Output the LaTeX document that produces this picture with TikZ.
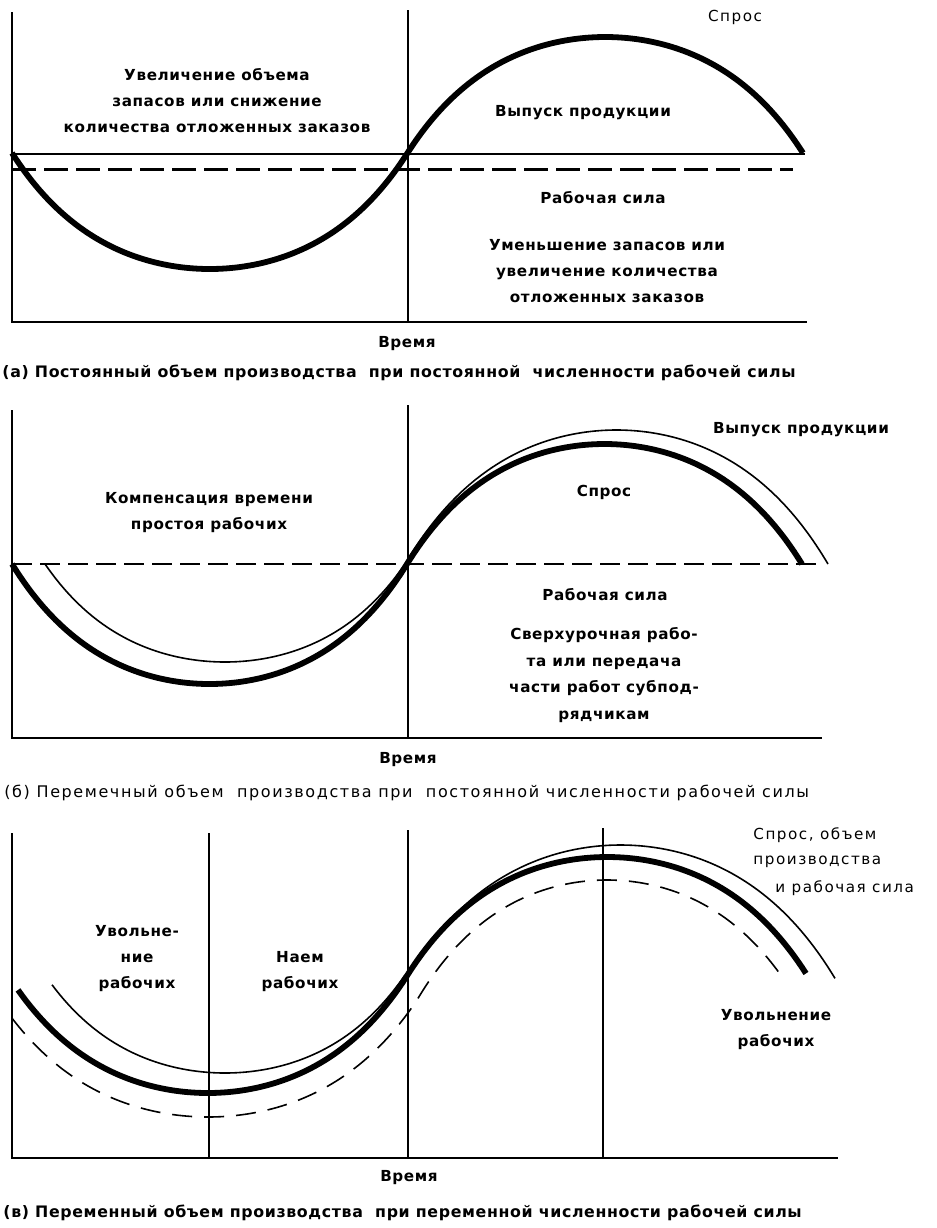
\documentclass[tikz,border=0pt]{standalone}
\usepackage{fontspec}
\newfontfamily\lblfont{DejaVu Sans}[LetterSpace=10]
\newfontfamily\lblbold{DejaVu Sans Bold}[LetterSpace=4]
\begin{document}
\begin{tikzpicture}[x=0.5pt,y=-0.5pt,
  declare function={sw(\a)=1.7*sin(\a)/(1+0.7*abs(sin(\a)));},
  lab/.style={font=\lblbold\fontsize{7.6}{13}\selectfont, inner sep=0pt, align=center},
  labl/.style={font=\lblfont\fontsize{7.6}{13}\selectfont, inner sep=0pt},
  capb/.style={font=\lblbold\fontsize{7.9}{13}\selectfont, inner sep=0pt, anchor=west},
  capl/.style={font=\lblfont\fontsize{8}{13}\selectfont, inner sep=0pt, anchor=west},
  axis/.style={line width=1pt},
  level/.style={line width=0.8pt},
  demand/.style={line width=2.9pt},
  outputc/.style={line width=0.8pt},
  laborA/.style={line width=1.5pt, dash pattern=on 12pt off 4pt},
  laborB/.style={line width=1pt, dash pattern=on 10pt off 4pt},
  laborC/.style={line width=0.8pt, dash pattern=on 10pt off 6pt}]
\useasboundingbox (0,0) rectangle (937,1228);

% ---------- (a) constant output, constant workforce ----------
\draw[axis] (12,12) -- (12,322) -- (807,322);
\draw[axis] (408,10) -- (408,322);
\draw[level] (12,154) -- (805,154);
\draw[laborA] (12,169) -- (793,169);
\draw[demand] plot[domain=12:803, samples=200] (\x,{153+116*sw((\x-12)/395.5*180)});

\node[lab] (aInc) at (217,101) {Увеличение объема\\запасов или снижение\\количества отложенных заказов};
\node[labl] (aDem) at (735,17) {Спрос};
\node[lab] (aOut) at (583,113) {Выпуск продукции};
\node[lab] (aLab) at (603,198) {Рабочая сила};
\node[lab] (aDec) at (607,271) {Уменьшение запасов или\\увеличение количества\\отложенных заказов};
\node[lab] (aTime) at (407,344) {Время};
\node[capb] (aCap) at (2,373) {(а) Постоянный объем производства\ \ при постоянной\ \ численности рабочей силы};

% ---------- (б) variable output, constant workforce ----------
\draw[axis] (12,410) -- (12,738) -- (822,738);
\draw[axis] (408,405) -- (408,738);
\draw[laborB] (12,564) -- (821,564);
\draw[outputc] plot[domain=45:405, samples=120] (\x,{564+98*sw((\x-45)/360*180)});
\draw[outputc] plot[domain=405:828, samples=140] (\x,{564-134*sw((\x-405)/423*180)});
\draw[demand] plot[domain=12:802, samples=200] (\x,{564+120*sw((\x-12)/395*180)});

\node[lab] (bComp) at (209,513) {Компенсация времени\\простоя рабочих};
\node[lab] (bOut) at (801,430) {Выпуск продукции};
\node[lab] (bDem) at (604,492) {Спрос};
\node[lab] (bLab) at (605,595) {Рабочая сила};
\node[lab, font=\lblbold\fontsize{7.6}{13.4}\selectfont] (bOver) at (604,675) {Сверхурочная рабо-\\та или передача\\части работ субпод-\\рядчикам};
\node[lab] (bTime) at (408,760) {Время};
\node[capl] (bCap) at (4,793) {(б) Перемечный объем\ \ производства при\ \ постоянной численности рабочей силы};

% ---------- (в) variable output, variable workforce ----------
\draw[axis] (12,833) -- (12,1158) -- (838,1158);
\draw[axis] (209,833) -- (209,1158);
\draw[axis] (408,830) -- (408,1158);
\draw[axis] (603,828) -- (603,1158);
\draw[laborC] plot[domain=12:417, samples=140] (\x,{1000+117*sw((\x+1)/418*180)})
  -- plot[domain=417:785, samples=130] (\x,{1000-120*sw((\x-417)/380*180)});
\draw[outputc] plot[domain=52:405, samples=120] (\x,{975+98*sw((\x-45)/360*180)});
\draw[outputc] plot[domain=405:835, samples=140] (\x,{980-135*sw((\x-405)/431*180)});
\draw[demand] plot[domain=18:806, samples=200] (\x,{975+118*sw((\x-8)/399.5*180)});

\node[lab] (cFire) at (137,959) {Увольне-\\ние\\рабочих};
\node[lab] (cHire) at (300,972) {Наем\\рабочих};
\node[labl, anchor=west] (cL1) at (753,835) {Спрос, объем};
\node[labl, anchor=west] (cL2) at (753,862) {производства};
\node[labl, anchor=west] (cL3) at (775,888) {и рабочая сила};
\node[lab] (cFire2) at (776,1030) {Увольнение\\рабочих};
\node[lab] (cTime) at (409,1178) {Время};
\node[capb] (cCap) at (3,1213) {(в) Переменный объем производства\ \ при переменной численности рабочей силы};
\end{tikzpicture}
\end{document}
